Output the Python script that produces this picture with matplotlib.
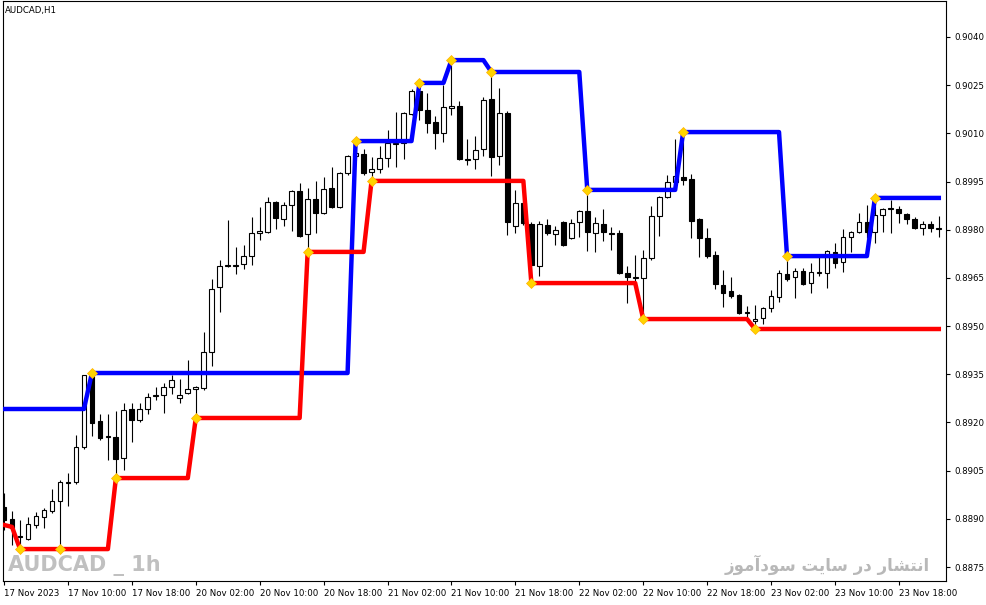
import matplotlib
matplotlib.use('Agg')
import matplotlib.pyplot as plt
from matplotlib import font_manager
import numpy as np

# AUDCAD H1 candles, one per bar
opens = [
    0.88937, 0.88900, 0.88847, 0.88837, 0.88881, 0.88906, 0.88925, 0.88956, 0.89012, 0.89015,
    0.89124, 0.89345, 0.89205, 0.89155, 0.89155, 0.89089, 0.89242, 0.89208, 0.89242, 0.89282,
    0.89286, 0.89310, 0.89276, 0.89292, 0.89304, 0.89307, 0.89419, 0.89622, 0.89687, 0.89687,
    0.89693, 0.89718, 0.89790, 0.89793, 0.89886, 0.89833, 0.89877, 0.89921, 0.89787, 0.89896,
    0.89852, 0.89930, 0.89871, 0.89977, 0.90030, 0.90036, 0.89980, 0.89989, 0.90023, 0.90067,
    0.90070, 0.90160, 0.90232, 0.90173, 0.90135, 0.90101, 0.90179, 0.90185, 0.90017, 0.90020,
    0.90051, 0.90207, 0.90030, 0.90163, 0.89812, 0.89883, 0.89818, 0.89687, 0.89815, 0.89787,
    0.89824, 0.89774, 0.89824, 0.89858, 0.89790, 0.89818, 0.89790, 0.89790, 0.89665, 0.89650,
    0.89650, 0.89712, 0.89843, 0.89902, 0.89949, 0.89964, 0.89958, 0.89833, 0.89774, 0.89721,
    0.89628, 0.89609, 0.89597, 0.89541, 0.89516, 0.89525, 0.89556, 0.89591, 0.89662, 0.89653,
    0.89672, 0.89634, 0.89665, 0.89665, 0.89731, 0.89700, 0.89777, 0.89793, 0.89824, 0.89793,
    0.89846, 0.89865, 0.89865, 0.89849, 0.89833, 0.89805, 0.89818, 0.89802,
]
highs = [
    0.88980, 0.88924, 0.88896, 0.88906, 0.88921, 0.88934, 0.88993, 0.89021, 0.89043, 0.89161,
    0.89348, 0.89354, 0.89226, 0.89226, 0.89236, 0.89261, 0.89261, 0.89261, 0.89292, 0.89310,
    0.89323, 0.89348, 0.89335, 0.89394, 0.89314, 0.89482, 0.89647, 0.89706, 0.89830, 0.89746,
    0.89752, 0.89840, 0.89871, 0.89902, 0.89890, 0.89886, 0.89924, 0.89945, 0.89930, 0.89952,
    0.89964, 0.89995, 0.89980, 0.90033, 0.90076, 0.90051, 0.90026, 0.90061, 0.90110, 0.90166,
    0.90166, 0.90238, 0.90257, 0.90226, 0.90154, 0.90251, 0.90328, 0.90201, 0.90083, 0.90092,
    0.90213, 0.90291, 0.90241, 0.90170, 0.89924, 0.89886, 0.89824, 0.89827, 0.89833, 0.89812,
    0.89827, 0.89833, 0.89861, 0.89924, 0.89840, 0.89865, 0.89808, 0.89799, 0.89687, 0.89721,
    0.89737, 0.89874, 0.89905, 0.89970, 0.90083, 0.90104, 0.89974, 0.89837, 0.89805, 0.89734,
    0.89675, 0.89653, 0.89600, 0.89563, 0.89566, 0.89560, 0.89612, 0.89675, 0.89718, 0.89681,
    0.89681, 0.89697, 0.89715, 0.89737, 0.89759, 0.89802, 0.89796, 0.89852, 0.89877, 0.89899,
    0.89868, 0.89893, 0.89874, 0.89852, 0.89840, 0.89827, 0.89827, 0.89843,
]
lows = [
    0.88865, 0.88819, 0.88806, 0.88834, 0.88871, 0.88871, 0.88918, 0.88806, 0.88940, 0.89008,
    0.89118, 0.89158, 0.89146, 0.89083, 0.89027, 0.89052, 0.89139, 0.89201, 0.89226, 0.89270,
    0.89229, 0.89289, 0.89261, 0.89289, 0.89214, 0.89301, 0.89376, 0.89544, 0.89684, 0.89662,
    0.89678, 0.89690, 0.89768, 0.89790, 0.89802, 0.89812, 0.89796, 0.89777, 0.89731, 0.89790,
    0.89849, 0.89868, 0.89868, 0.89970, 0.90017, 0.89970, 0.89952, 0.89977, 0.89995, 0.89995,
    0.90020, 0.90157, 0.90142, 0.90101, 0.90051, 0.90073, 0.90157, 0.90017, 0.90002, 0.89989,
    0.90030, 0.89967, 0.90002, 0.89784, 0.89790, 0.89815, 0.89634, 0.89656, 0.89784, 0.89752,
    0.89749, 0.89771, 0.89777, 0.89734, 0.89731, 0.89765, 0.89737, 0.89662, 0.89572, 0.89625,
    0.89522, 0.89706, 0.89780, 0.89899, 0.89939, 0.89939, 0.89774, 0.89715, 0.89712, 0.89615,
    0.89560, 0.89588, 0.89538, 0.89528, 0.89491, 0.89507, 0.89544, 0.89575, 0.89640, 0.89588,
    0.89628, 0.89603, 0.89656, 0.89619, 0.89681, 0.89669, 0.89731, 0.89790, 0.89774, 0.89759,
    0.89793, 0.89790, 0.89821, 0.89818, 0.89802, 0.89784, 0.89793, 0.89777,
]
closes = [
    0.88896, 0.88871, 0.88843, 0.88884, 0.88909, 0.88928, 0.88956, 0.89015, 0.89015, 0.89124,
    0.89348, 0.89198, 0.89152, 0.89158, 0.89086, 0.89239, 0.89208, 0.89242, 0.89279, 0.89286,
    0.89310, 0.89332, 0.89286, 0.89304, 0.89310, 0.89419, 0.89615, 0.89687, 0.89690, 0.89690,
    0.89718, 0.89790, 0.89796, 0.89886, 0.89837, 0.89877, 0.89921, 0.89780, 0.89896, 0.89852,
    0.89927, 0.89871, 0.89977, 0.90030, 0.90039, 0.89977, 0.89989, 0.90023, 0.90070, 0.90070,
    0.90163, 0.90232, 0.90173, 0.90132, 0.90101, 0.90182, 0.90185, 0.90020, 0.90020, 0.90048,
    0.90204, 0.90026, 0.90163, 0.89824, 0.89883, 0.89821, 0.89690, 0.89818, 0.89790, 0.89799,
    0.89752, 0.89821, 0.89858, 0.89793, 0.89821, 0.89793, 0.89787, 0.89665, 0.89653, 0.89653,
    0.89712, 0.89843, 0.89902, 0.89949, 0.89967, 0.89955, 0.89827, 0.89774, 0.89718, 0.89631,
    0.89603, 0.89594, 0.89541, 0.89544, 0.89522, 0.89556, 0.89594, 0.89665, 0.89647, 0.89672,
    0.89631, 0.89669, 0.89669, 0.89734, 0.89697, 0.89777, 0.89793, 0.89824, 0.89793, 0.89846,
    0.89865, 0.89868, 0.89852, 0.89833, 0.89805, 0.89818, 0.89805, 0.89805,
]

# channel lines: bar where each level starts, and the level
upper_starts = [0, 11, 44, 52, 56, 61, 73, 85, 98, 109]
upper_levels = [0.89242, 0.89354, 0.90076, 0.90257, 0.90328, 0.90291, 0.89924, 0.90104, 0.89718, 0.89899]
lower_starts = [0, 1, 2, 14, 24, 38, 46, 66, 80, 94]
lower_levels = [0.88881, 0.88875, 0.88806, 0.89027, 0.89214, 0.89731, 0.89952, 0.89634, 0.89522, 0.89491]

# bars with a yellow dot
upper_marks = [11, 44, 52, 56, 61, 73, 85, 98, 109]
lower_marks = [2, 7, 14, 24, 38, 46, 66, 80, 94]

time_labels = ["17 Nov 2023", "17 Nov 10:00", "17 Nov 18:00", "20 Nov 02:00", "20 Nov 10:00",
               "20 Nov 18:00", "21 Nov 02:00", "21 Nov 10:00", "21 Nov 18:00", "22 Nov 02:00",
               "22 Nov 10:00", "22 Nov 18:00", "23 Nov 02:00", "23 Nov 10:00", "23 Nov 18:00"]
price_ticks = [0.8875, 0.8890, 0.8905, 0.8920, 0.8935, 0.8950, 0.8965, 0.8980, 0.8995, 0.9010, 0.9025, 0.9040]

o = np.array(opens)
h = np.array(highs)
l = np.array(lows)
c = np.array(closes)
x = np.arange(len(o))

def expand(starts, levels):
    idx = np.searchsorted(starts, x, side='right') - 1
    return np.array(levels)[idx]

upper = expand(upper_starts, upper_levels)
lower = expand(lower_starts, lower_levels)

fig = plt.figure(figsize=(9.87, 6.05), dpi=100)
ax = fig.add_axes([3 / 987, 1 - 581 / 605, 943 / 987, 580 / 605])

ax.vlines(x, l, h, color='black', linewidth=0.8, zorder=2)
up = c >= o
ax.bar(x, np.abs(c - o), 0.6, bottom=np.minimum(o, c),
       color=np.where(up, 'white', 'black'), edgecolor='black', linewidth=0.8, zorder=3)

ax.plot(x, upper, color='#0000ff', lw=3.2, zorder=4)
ax.plot(x, lower, color='#ff0000', lw=3.2, zorder=4)
ax.plot(upper_marks, upper[upper_marks], 'D', color='#ffd400', ms=5, mec='#ffb000', mew=0.5, zorder=5)
ax.plot(lower_marks, lower[lower_marks], 'D', color='#ffd400', ms=5, mec='#ffb000', mew=0.5, zorder=5)

ax.set_xlim(-0.13, 117.9)
ax.set_ylim(0.887066, 0.90512)

ax.yaxis.tick_right()
ax.set_yticks(price_ticks)
ax.set_yticklabels([f'{v:.4f}' for v in price_ticks])
ax.tick_params(axis='y', direction='out', length=3, width=0.8, pad=3, labelsize=6.2)
ax.set_xticks(np.arange(len(time_labels)) * 8)
ax.set_xticklabels(time_labels)
ax.tick_params(axis='x', direction='out', length=3, width=0.8, pad=3, labelsize=6.2)
for lab in ax.get_xticklabels():
    lab.set_ha('left')
for sp in ax.spines.values():
    sp.set_linewidth(0.8)

fig.text(5 / 987, 1 - 10 / 605, 'AUDCAD,H1', fontsize=6.2, va='center', ha='left')

# narrow bold font for the watermark if there is one
names = {f.name for f in font_manager.fontManager.ttflist}
if 'Liberation Sans Narrow' in names:
    wm_family, wm_size = 'Liberation Sans Narrow', 21
else:
    wm_family, wm_size = 'DejaVu Sans', 15
fig.text(8 / 987, 1 - 565 / 605, 'AUDCAD _ 1h', family=wm_family,
         fontweight='bold', fontsize=wm_size, color='#c0c0c0', va='center', ha='left')
# "انتشار در سایت سودآموز" in shaped forms, visual order
fig.text(930 / 987, 1 - 565 / 605,
         '\uFEAF\uFEEE\uFEE3\uFE81\uFEA9\uFEEE\uFEB3 \uFE96\uFBFE\uFE8E\uFEB3 \uFEAD\uFEA9 \uFEAD\uFE8E\uFEB8\uFE98\uFEE7\uFE8D',
         family=['DejaVu Sans'], fontweight='bold', fontsize=12, color='#b8b8b8', va='center', ha='right')

fig.savefig('out.png', dpi=100)
